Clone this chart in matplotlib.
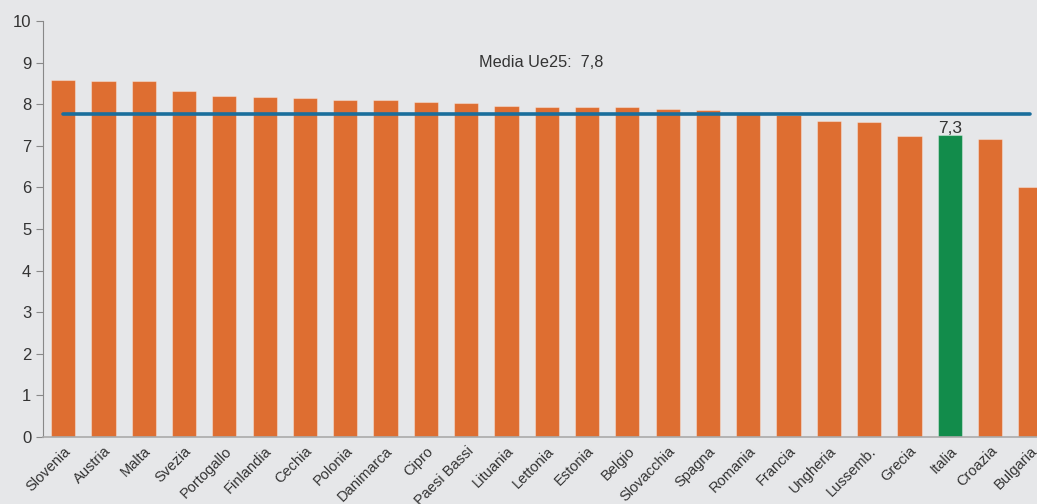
import matplotlib
matplotlib.use("Agg")
import matplotlib.pyplot as plt
import matplotlib.transforms as mtransforms
import numpy as np

countries = ["Slovenia", "Austria", "Malta", "Svezia", "Portogallo", "Finlandia", "Cechia",
             "Polonia", "Danimarca", "Cipro", "Paesi Bassi", "Lituania", "Lettonia", "Estonia",
             "Belgio", "Slovacchia", "Spagna", "Romania", "Francia", "Ungheria", "Lussemb.",
             "Grecia", "Italia", "Croazia", "Bulgaria"]
values = [8.57, 8.55, 8.55, 8.31, 8.20, 8.18, 8.16, 8.10, 8.10, 8.05, 8.02, 7.96, 7.93, 7.93,
          7.93, 7.88, 7.85, 7.76, 7.75, 7.59, 7.57, 7.24, 7.25, 7.16, 6.01]
eu_mean = 7.77
mean_label = "Media Ue25:  7,8"
italy_label = "7,3"
highlight = "Italia"

bg = "#e6e7e9"
orange = "#de6e31"
green = "#128c4b"
line_col = "#1a6e9c"
txt = "#333333"

fig = plt.figure(figsize=(10.37, 5.04), dpi=100, facecolor=bg)
ax = fig.add_axes([43/1037, 67/504, 1007.5/1037, 416/504], facecolor=bg)

x = np.arange(len(countries))
colors = [green if c == highlight else orange for c in countries]
ax.bar(x, values, width=0.6, color=colors, edgecolor=(1, 1, 1, 0.35), linewidth=0.8, zorder=2)

ax.plot([x[0], x[-1]], [eu_mean, eu_mean], color=line_col, lw=2.6, zorder=3, solid_capstyle="round")

ax.text(11.85, 9.0, mean_label, ha="center", va="center", fontsize=11.7, color=txt,
        family="Liberation Sans")
ii = countries.index(highlight)
ax.text(x[ii], values[ii] - 0.02, italy_label, ha="center", va="bottom", fontsize=12.5,
        color=txt, family="Liberation Sans", zorder=4)

ax.set_xlim(-0.5, len(countries) - 0.5)
ax.set_ylim(0, 10)
ax.set_yticks(range(0, 11))
ax.set_xticks(x)
ax.set_xticklabels(countries, rotation=45, ha="right", rotation_mode="anchor",
                   fontsize=10.5, color=txt, family="Liberation Sans")
offset = mtransforms.ScaledTranslation(-4/100, 0, fig.dpi_scale_trans)
for lab in ax.get_xticklabels():
    lab.set_transform(lab.get_transform() + offset)
for lab in ax.get_yticklabels():
    lab.set_family("Liberation Sans")
ax.tick_params(axis="y", labelsize=12, colors=txt, length=5, color="#888888", direction="out")
ax.tick_params(axis="x", length=0, pad=5)
for s in ["top", "right"]:
    ax.spines[s].set_visible(False)
ax.spines["left"].set_color("#888888")
ax.spines["bottom"].set_color("#aaaaaa")
ax.spines["bottom"].set_linewidth(1.2)

fig.savefig("out.png", dpi=100, facecolor=bg)
